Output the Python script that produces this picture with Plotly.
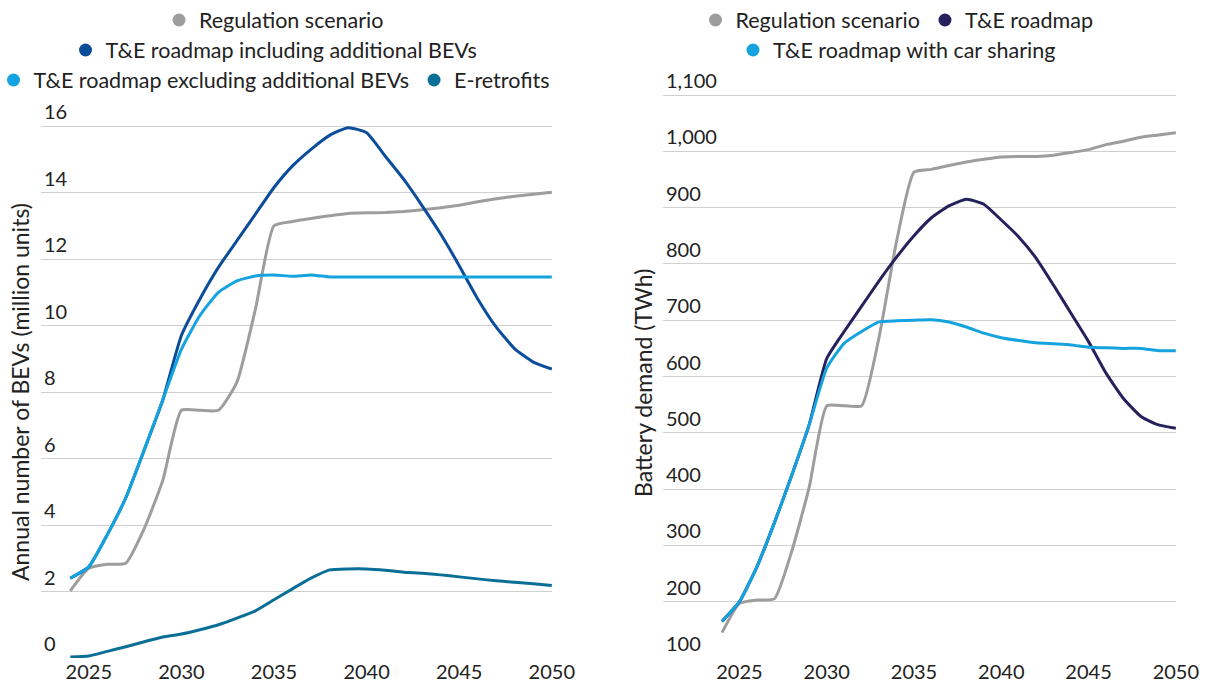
import plotly.graph_objects as go

years = list(range(2024, 2051))

# Left panel: annual number of BEVs (million units)
bev_regulation = [2.02, 2.7, 2.82, 2.85, 3.9, 5.35, 7.45, 7.45, 7.45, 8.3, 10.5, 13.0, 13.13,
                  13.22, 13.3, 13.37, 13.39, 13.4, 13.43, 13.48, 13.54, 13.62, 13.72, 13.81,
                  13.89, 13.95, 14.01]
bev_incl_additional = [2.4, 2.74, 3.71, 4.82, 6.27, 7.77, 9.7, 10.8, 11.75, 12.55, 13.35, 14.15,
                       14.8, 15.3, 15.72, 15.95, 15.8, 15.1, 14.4, 13.6, 12.75, 11.8, 10.8,
                       9.95, 9.3, 8.9, 8.69]
bev_excl_additional = [2.4, 2.74, 3.71, 4.82, 6.27, 7.77, 9.28, 10.3, 11.0, 11.34, 11.49, 11.52,
                       11.48, 11.52, 11.46, 11.46, 11.46, 11.46, 11.46, 11.46, 11.46, 11.46,
                       11.46, 11.46, 11.46, 11.46, 11.46]
e_retrofits = [0.03, 0.06, 0.2, 0.34, 0.49, 0.63, 0.72, 0.85, 1.0, 1.2, 1.42, 1.75, 2.08, 2.4,
               2.65, 2.68, 2.68, 2.64, 2.58, 2.55, 2.5, 2.44, 2.38, 2.32, 2.28, 2.23, 2.18]

# Right panel: battery demand (TWh)
twh_regulation = [145, 197, 203, 205, 290, 404, 548, 548, 548, 670, 840, 963, 968, 975, 981,
                  986, 990, 991, 991, 993, 998, 1003, 1012, 1018, 1025, 1029, 1033]
twh_roadmap = [165, 200, 262, 340, 425, 515, 632, 680, 725, 770, 812, 850, 882, 903, 915, 906,
               878, 848, 810, 762, 712, 662, 606, 561, 529, 514, 508]
twh_car_sharing = [165, 200, 262, 340, 425, 515, 615, 659, 680, 697, 699, 700, 701, 697, 688,
                   677, 669, 664, 660, 658, 656, 652, 651, 650, 650, 646, 646]

left_series = [
    ("Regulation scenario", bev_regulation, "#9d9d9d", "legend"),
    ("T&E roadmap including additional BEVs", bev_incl_additional, "#0b4d9b", "legend2"),
    ("T&E roadmap excluding additional BEVs", bev_excl_additional, "#14a3df", "legend3"),
    ("E-retrofits", e_retrofits, "#0a6f96", "legend3"),
]
right_series = [
    ("Regulation scenario", twh_regulation, "#9d9d9d", "legend4"),
    ("T&E roadmap", twh_roadmap, "#25215c", "legend4"),
    ("T&E roadmap with car sharing", twh_car_sharing, "#14a3df", "legend5"),
]

FONT = "Lato"
TXT = "#222222"
GRID = "#d0d0d0"

fig = go.Figure()

for name, vals, col, leg in left_series:
    fig.add_trace(go.Scatter(x=years, y=vals, mode="lines", line=dict(color=col, width=3, shape="spline", smoothing=0.5),
                             showlegend=False, xaxis="x", yaxis="y", name=name))
for name, vals, col, leg in left_series:
    fig.add_trace(go.Scatter(x=[None], y=[None], mode="markers", marker=dict(size=13, color=col),
                             name=name, legend=leg, xaxis="x", yaxis="y"))

for name, vals, col, leg in right_series:
    fig.add_trace(go.Scatter(x=years, y=vals, mode="lines", line=dict(color=col, width=3, shape="spline", smoothing=0.5),
                             showlegend=False, xaxis="x2", yaxis="y2", name=name))
for name, vals, col, leg in right_series:
    fig.add_trace(go.Scatter(x=[None], y=[None], mode="markers", marker=dict(size=13, color=col),
                             name=name, legend=leg, xaxis="x2", yaxis="y2"))

W, H = 1205, 689
B = 31
PH = H - B


def py(px):
    # pixel from top -> paper y
    return (PH - px) / PH


xcommon = dict(tickmode="array", tickvals=[2025, 2030, 2035, 2040, 2045, 2050], showgrid=False,
               zeroline=False, showline=False, ticks="", automargin=False,
               tickfont=dict(size=20, color=TXT, family=FONT))
ycommon = dict(showgrid=True, gridcolor=GRID, gridwidth=1, zeroline=False, showline=False, ticks="",
               automargin=False, ticklabelposition="inside top", tickfont=dict(size=20, color=TXT, family=FONT))

legend_base = dict(orientation="h", xanchor="center", yanchor="middle", font=dict(size=21.5, color=TXT, family=FONT),
                   bgcolor="rgba(0,0,0,0)", itemwidth=30, tracegroupgap=0)

# y ranges run 40px past the top gridline so its inside label is not dropped
fig.update_layout(
    width=W, height=H,
    margin=dict(l=0, r=0, t=0, b=B, autoexpand=False),
    paper_bgcolor="white", plot_bgcolor="white",
    font=dict(family=FONT, color=TXT, size=20),
    xaxis=dict(domain=[41 / W, 552 / W], range=[2022.42, 2050.01], anchor="y", **xcommon),
    yaxis=dict(domain=[0, py(86)], range=[0, 16 + 40 / 33.23], dtick=2, anchor="x", **ycommon),
    xaxis2=dict(domain=[663 / W, 1176 / W], range=[2020.62, 2050.01], anchor="y2", **xcommon),
    yaxis2=dict(domain=[0, py(55)], range=[100, 1100 + 40 / 0.5623], dtick=100, tickformat=",", anchor="x2", **ycommon),
    legend=dict(x=274 / W, y=py(20), **legend_base),
    legend2=dict(x=274 / W, y=py(50), **legend_base),
    legend3=dict(x=274 / W, y=py(80), **legend_base),
    legend4=dict(x=897 / W, y=py(20), **legend_base),
    legend5=dict(x=897 / W, y=py(50), **legend_base),
    annotations=[
        dict(text="Annual number of BEVs (million units)", textangle=-90, xref="paper", yref="paper",
             x=20 / W, y=py(392), xanchor="center", yanchor="middle", showarrow=False,
             font=dict(size=23, color=TXT, family=FONT)),
        dict(text="Battery demand (TWh)", textangle=-90, xref="paper", yref="paper",
             x=643 / W, y=py(383), xanchor="center", yanchor="middle", showarrow=False,
             font=dict(size=23, color=TXT, family=FONT)),
    ],
)

# the page body has a default 8px margin; drop it so the figure sits at the window origin
fig.write_html("out.html", config={"displayModeBar": False},
               post_script="document.body.style.margin='0';")
